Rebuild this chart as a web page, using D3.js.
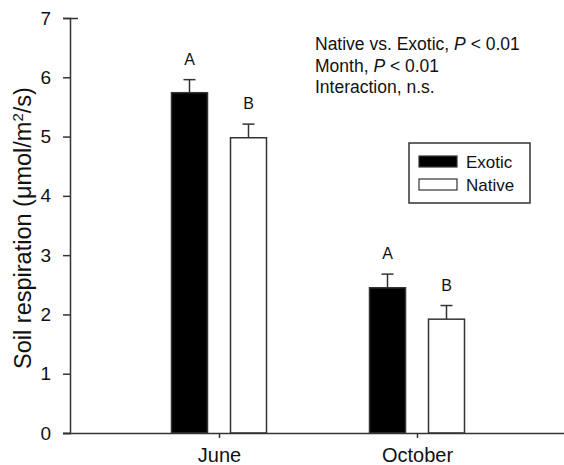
<!DOCTYPE html>
<html><head><meta charset="utf-8">
<script src="https://cdn.jsdelivr.net/npm/d3@7"></script>
<style>body{margin:0;background:#fff}svg{display:block;font-family:"Liberation Sans",Arial,Helvetica,sans-serif}</style>
</head><body><svg id="c" width="564" height="465"></svg>
<script>
const months = ["June", "October"];
const series = ["Exotic", "Native"];
const exoticMean = [5.74, 2.45];
const exoticSE = [0.22, 0.23];
const nativeMean = [4.98, 1.92];
const nativeSE = [0.23, 0.23];
const letters = [["A", "A"], ["B", "B"]];
const yTicks = [0, 1, 2, 3, 4, 5, 6, 7];
const statLines = [
  ["Native vs. Exotic, ", "P", " < 0.01"],
  ["Month, ", "P", " < 0.01"],
  ["Interaction, n.s.", "", ""]
];

const svg = d3.select("#c");
const y = d3.scaleLinear().domain([0, 7]).range([433, 18]);
const xc = d3.scalePoint().domain(months).range([219, 417]);

const stroke = "#333";
const data = [];
months.forEach((m, i) => {
  data.push({m, s: "Exotic", v: exoticMean[i], se: exoticSE[i], L: letters[0][i]});
  data.push({m, s: "Native", v: nativeMean[i], se: nativeSE[i], L: letters[1][i]});
});
const bw = 36, gap = 23;
const bx = d => xc(d.m) + (d.s === "Exotic" ? -(gap / 2 + bw) : gap / 2);

// error bars
const eb = svg.append("g").attr("stroke", stroke).attr("stroke-width", 1.5);
data.forEach(d => {
  const cx = bx(d) + bw / 2;
  eb.append("line").attr("x1", cx).attr("x2", cx).attr("y1", y(d.v)).attr("y2", y(d.v + d.se));
  eb.append("line").attr("x1", cx - 6).attr("x2", cx + 6).attr("y1", y(d.v + d.se)).attr("y2", y(d.v + d.se));
});
// bars
svg.append("g").selectAll("rect").data(data).join("rect")
  .attr("x", bx).attr("width", bw)
  .attr("y", d => y(d.v)).attr("height", d => y(0) - y(d.v))
  .attr("fill", d => d.s === "Exotic" ? "#000" : "#fff")
  .attr("stroke", stroke).attr("stroke-width", 1.5);
// letters
svg.append("g").selectAll("text").data(data).join("text")
  .attr("x", d => bx(d) + bw / 2).attr("y", d => y(d.v + d.se) - 15)
  .attr("text-anchor", "middle").attr("font-size", 16).attr("fill", "#111")
  .text(d => d.L);

// y axis
const ya = svg.append("g").attr("transform", "translate(70,0)")
  .call(d3.axisLeft(y).tickValues(yTicks).tickSize(7).tickPadding(12).tickFormat(d3.format("d")));
ya.select(".domain").attr("stroke", stroke).attr("stroke-width", 1.5);
ya.selectAll(".tick line").attr("stroke", stroke).attr("stroke-width", 1.5);
ya.selectAll(".tick").filter(d => d === 7).select("line").attr("x2", 8).attr("x1", -7);
ya.selectAll(".tick text").attr("font-size", 19).attr("fill", "#111").attr("font-family", "Liberation Sans, Arial, sans-serif");

// x axis
const xa = svg.append("g").attr("transform", "translate(0,433)")
  .call(d3.axisBottom(xc).tickSize(5).tickPadding(10).tickSizeOuter(0));
xa.select(".domain").attr("d", "M63,0.5H564").attr("stroke", stroke).attr("stroke-width", 1.5);
xa.selectAll(".tick line").attr("stroke", stroke).attr("stroke-width", 1.5);
xa.selectAll(".tick text").attr("font-size", 20).attr("fill", "#111").attr("font-family", "Liberation Sans, Arial, sans-serif");

// y label
svg.append("text").attr("transform", "translate(31,228) rotate(-90)")
  .attr("text-anchor", "middle").attr("font-size", 23.5).attr("fill", "#111")
  .html('Soil respiration (μmol/m<tspan dy="-8" font-size="15">2</tspan><tspan dy="8">/s)</tspan>');

// stats
statLines.forEach((l, i) => {
  const t = svg.append("text").attr("x", 315).attr("y", 50 + i * 21.5).attr("font-size", 17.5).attr("fill", "#111");
  t.append("tspan").text(l[0]);
  if (l[1]) t.append("tspan").attr("font-style", "italic").text(l[1]);
  if (l[2]) t.append("tspan").text(l[2]);
});

// legend
const lg = svg.append("g");
lg.append("rect").attr("x", 409).attr("y", 143).attr("width", 121).attr("height", 60)
  .attr("fill", "#fff").attr("stroke", stroke).attr("stroke-width", 1.5);
series.forEach((s, i) => {
  lg.append("rect").attr("x", 419).attr("y", 156 + i * 23).attr("width", 38).attr("height", 11)
    .attr("fill", s === "Exotic" ? "#000" : "#fff").attr("stroke", stroke).attr("stroke-width", 1.2);
  lg.append("text").attr("x", 466).attr("y", 168 + i * 23).attr("font-size", 17).attr("fill", "#111").text(s);
});
</script></body></html>
